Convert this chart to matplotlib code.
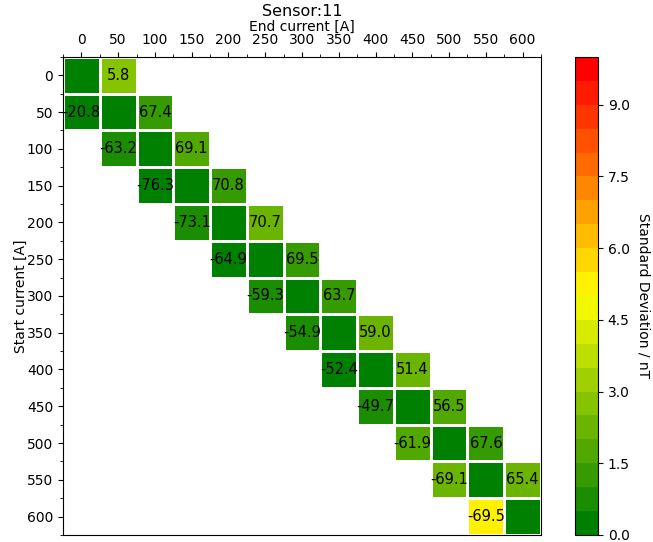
import numpy as np
import matplotlib
matplotlib.use("Agg")
import matplotlib.pyplot as plt
from matplotlib.colors import LinearSegmentedColormap

# --- dữ liệu ---
currents = [0, 50, 100, 150, 200, 250, 300, 350, 400, 450, 500, 550, 600]

# giá trị trung bình (nT) trên/dưới đường chéo
upper_mean = [5.8, 67.4, 69.1, 70.8, 70.7, 69.5, 63.7, 59.0, 51.4, 56.5, 67.6, 65.4]
lower_mean = [-20.8, -63.2, -76.3, -73.1, -64.9, -59.3, -54.9, -52.4, -49.7, -61.9, -69.1, -69.5]

# độ lệch chuẩn (màu)
diag_std = [0.1, 0.1, 0.1, 0.1, 0.1, 0.1, 0.1, 0.1, 0.1, 0.1, 0.1, 0.1, 0.1]
upper_std = [2.7, 1.2, 1.7, 1.2, 2.2, 1.2, 1.2, 2.2, 2.2, 1.7, 1.2, 2.1]
lower_std = [0.3, 0.8, 0.4, 0.6, 0.4, 0.6, 0.9, 0.4, 0.8, 1.8, 2.2, 5.2]

n = len(currents)
std = np.full((n, n), np.nan)
for i in range(n):
    std[i, i] = diag_std[i]
for i in range(n - 1):
    std[i, i + 1] = upper_std[i]
    std[i + 1, i] = lower_std[i]

cmap = LinearSegmentedColormap.from_list("gyr", ["green", "yellow", "red"], N=20)

fig = plt.figure(figsize=(6.53, 5.42), dpi=100)
ax = fig.add_axes([0.0965, 0.013, 0.732, 0.882])
cax = fig.add_axes([0.8806, 0.013, 0.0352, 0.882])

step = currents[1] - currents[0]
edges = np.append(np.array(currents) - step / 2, currents[-1] + step / 2)
mesh = ax.pcolormesh(edges, edges, np.ma.masked_invalid(std), cmap=cmap,
                     vmin=0, vmax=10, edgecolors="white", linewidth=1.0)

for i in range(n - 1):
    ax.text(currents[i + 1], currents[i], f"{upper_mean[i]:.1f}",
            ha="center", va="center", fontsize=10.5)
    ax.text(currents[i], currents[i + 1], f"{lower_mean[i]:.1f}",
            ha="center", va="center", fontsize=10.5)

ax.set_xlim(edges[0], edges[-1])
ax.set_ylim(edges[-1], edges[0])
ax.set_xticks(currents)
ax.set_yticks(currents)
ax.set_xticks(edges, minor=True)
ax.set_yticks(edges, minor=True)
ax.xaxis.tick_top()
ax.xaxis.set_label_position("top")
ax.set_xlabel("End current [A]", labelpad=2)
ax.set_ylabel("Start current [A]", labelpad=-1)
ax.set_title("Sensor:11", fontsize=11.5, pad=0)
ax.title.set_position((0.5, 1.07))

cb = fig.colorbar(mesh, cax=cax, ticks=np.arange(0, 10, 1.5), format="%.1f")
cb.set_label("Standard Deviation / nT", rotation=270, labelpad=15)

fig.savefig("out.png", dpi=100)
